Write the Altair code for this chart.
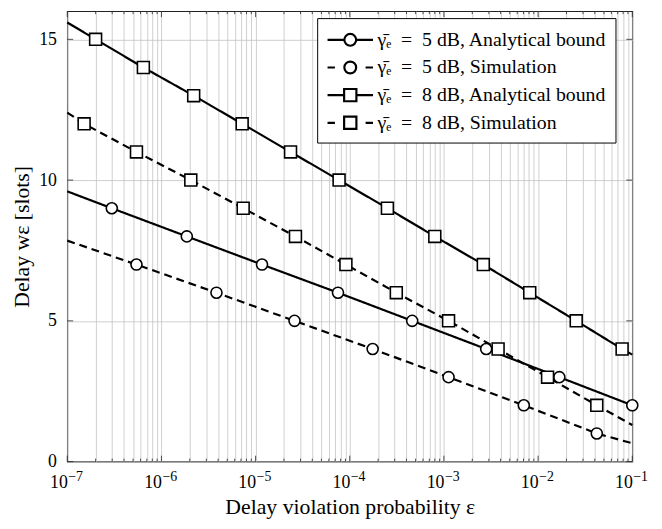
import altair as alt
import pandas as pd

# ---- data ----
series_names = [
    "γ̄ₑ\u2002=\u20025 dB, Analytical bound",
    "γ̄ₑ\u2002=\u20025 dB, Simulation",
    "γ̄ₑ\u2002=\u20028 dB, Analytical bound",
    "γ̄ₑ\u2002=\u20028 dB, Simulation",
]
series_kind = ["Analytical", "Simulation", "Analytical", "Simulation"]
series_marker = ["circle", "circle", "square", "square"]

ana5_eps = [2.97e-7, 1.86e-6, 1.17e-5, 7.5e-5, 4.6e-4, 2.81e-3, 1.68e-2, 1.0e-1]
ana5_w = [9, 8, 7, 6, 5, 4, 3, 2]
ana5_edges = [(1e-7, 9.6)]

sim5_eps = [5.43e-7, 3.84e-6, 2.59e-5, 1.75e-4, 1.12e-3, 7.05e-3, 4.2e-2]
sim5_w = [7, 6, 5, 4, 3, 2, 1]
sim5_edges = [(1e-7, 7.85), (1e-1, 0.65)]

ana8_eps = [2.0e-7, 6.43e-7, 2.2e-6, 7.2e-6, 2.35e-5, 7.7e-5, 2.51e-4, 8.0e-4,
            2.62e-3, 8.15e-3, 2.54e-2, 7.8e-2]
ana8_w = [15, 14, 13, 12, 11, 10, 9, 8, 7, 6, 5, 4]
ana8_edges = [(1e-7, 15.6), (1e-1, 3.8)]

sim8_eps = [1.51e-7, 5.43e-7, 2.05e-6, 7.38e-6, 2.65e-5, 9.1e-5, 3.12e-4, 1.12e-3,
            3.76e-3, 1.26e-2, 4.2e-2]
sim8_w = [12, 11, 10, 9, 8, 7, 6, 5, 4, 3, 2]
sim8_edges = [(1e-7, 12.4), (1e-1, 1.3)]

x_decades = [1e-7, 1e-6, 1e-5, 1e-4, 1e-3, 1e-2, 1e-1]
x_exponents = ["−7", "−6", "−5", "−4", "−3", "−2", "−1"]
y_ticks = [0, 5, 10, 15]

# legend glyphs: line sample + marker, drawn to the right of the nominal symbol box
legend_paths = [
    "M-1,0L0.48,0M1.52,0L3,0M0.48,0A0.52,0.52,0,1,1,1.52,0A0.52,0.52,0,1,1,0.48,0Z",
    "M-1,0L-0.35,0M2.35,0L3,0M0.48,0A0.52,0.52,0,1,1,1.52,0A0.52,0.52,0,1,1,0.48,0Z",
    "M-1,0L0.46,0M1.54,0L3,0M0.46,-0.54L1.54,-0.54L1.54,0.54L0.46,0.54Z",
    "M-1,0L-0.35,0M2.35,0L3,0M0.46,-0.54L1.54,-0.54L1.54,0.54L0.46,0.54Z",
]

# ---- build tables ----
all_eps = [ana5_eps, sim5_eps, ana8_eps, sim8_eps]
all_w = [ana5_w, sim5_w, ana8_w, sim8_w]
all_edges = [ana5_edges, sim5_edges, ana8_edges, sim8_edges]

marker_rows, line_rows = [], []
for i, name in enumerate(series_names):
    for e, w in zip(all_eps[i], all_w[i]):
        marker_rows.append({"series": name, "kind": series_kind[i],
                            "marker": series_marker[i], "eps": e, "w": w})
        line_rows.append({"series": name, "kind": series_kind[i], "eps": e, "w": w})
    for e, w in all_edges[i]:
        line_rows.append({"series": name, "kind": series_kind[i], "eps": e, "w": w})
markers = pd.DataFrame(marker_rows)
lines = pd.DataFrame(line_rows).sort_values(["series", "eps"])

minor_vals = []
for d in x_decades[:-1]:
    for k in range(2, 10):
        minor_vals.append(d * k)
all_x_vals = sorted(minor_vals + x_decades)
major_df = pd.DataFrame({"eps": x_decades, "exp": x_exponents})
minor_df = pd.DataFrame({"eps": minor_vals})
yt_df = pd.DataFrame({"w": y_ticks})

W, H = 572, 456
FONT = "Liberation Serif"
TICK = "#222222"

is_decade = "abs(log(datum.value)/LN10 - round(log(datum.value)/LN10)) < 0.001"
label_expr = "(" + is_decade + ") ? '10' : ''"

x_scale = alt.Scale(type="log", domain=[1e-7, 1e-1], nice=False)
y_scale = alt.Scale(domain=[0, 16], nice=False)

x_enc = alt.X("eps:Q", scale=x_scale,
              axis=alt.Axis(values=all_x_vals, labelExpr=label_expr,
                            title="Delay violation probability ε",
                            grid=True, gridColor="#c4c4c4", gridWidth=0.8,
                            ticks=False, domain=False, labelPadding=12,
                            labelAlign="right",
                            labelFontSize=18, titleFontSize=22, titlePadding=6,
                            labelFlush=False, labelOverlap=False))
y_enc = alt.Y("w:Q", scale=y_scale,
              axis=alt.Axis(values=y_ticks, title="Delay wε [slots]",
                            grid=True, gridColor="#c4c4c4", gridWidth=0.8,
                            ticks=False, domain=False, labelPadding=11,
                            labelFontSize=18, titleFontSize=22, titlePadding=5))

line_layer = alt.Chart(lines).mark_line(color="black", strokeWidth=2.2).encode(
    x=x_enc, y=y_enc, detail="series:N",
    strokeDash=alt.StrokeDash("kind:N", scale=alt.Scale(domain=["Analytical", "Simulation"],
                                                        range=[[1, 0], [8, 5]]), legend=None),
    order="eps:Q",
)

circ_layer = alt.Chart(markers).transform_filter("datum.marker == 'circle'").mark_point(
    shape="circle", size=125, filled=True, fill="white", stroke="black",
    strokeWidth=1.6, opacity=1).encode(x="eps:Q", y="w:Q")

sq_layer = alt.Chart(markers).transform_filter("datum.marker == 'square'").mark_point(
    shape="square", size=145, filled=True, fill="white", stroke="black",
    strokeWidth=1.6, opacity=1).encode(x="eps:Q", y="w:Q")

# exponents of the decade tick labels (10^-k)
exp_layer = alt.Chart(major_df).mark_text(
    font=FONT, fontSize=14, align="left", baseline="alphabetic", dx=1, color="black"
).encode(x="eps:Q", y=alt.value(H + 20), text="exp:N")

# inward tick marks on all four sides (positions from the scales)
def xticks(df, y0, y1):
    return alt.Chart(df).mark_rule(color=TICK, strokeWidth=0.8).encode(
        x="eps:Q", y=alt.value(y0), y2=alt.value(y1))

def yticks(x0, x1):
    return alt.Chart(yt_df).mark_rule(color=TICK, strokeWidth=0.8).encode(
        y="w:Q", x=alt.value(x0), x2=alt.value(x1))

tick_layers = [
    xticks(major_df, H, H - 6), xticks(minor_df, H, H - 3),
    xticks(major_df, 0, 6), xticks(minor_df, 0, 3),
    yticks(0, 6), yticks(W, W - 6),
]

legend_layer = alt.Chart(markers).transform_filter("false").mark_point(
    filled=False, color="black", strokeWidth=2.2, opacity=1).encode(
    shape=alt.Shape("series:N",
                    scale=alt.Scale(domain=series_names, range=legend_paths),
                    legend=alt.Legend(title=None, orient="none", legendX=253, legendY=7,
                                      symbolSize=529, symbolStrokeWidth=2.2,
                                      symbolFillColor="white", symbolStrokeColor="black",
                                      labelFont=FONT, labelFontSize=20, labelOffset=26,
                                      labelLimit=400,
                                      strokeColor="black", fillColor="white",
                                      padding=9, rowPadding=4, symbolOpacity=1)),
)

chart = alt.layer(line_layer, *tick_layers, circ_layer, sq_layer, exp_layer,
                  legend_layer).properties(
    width=W, height=H,
    autosize=alt.AutoSizeParams(type="none"),
    padding={"left": 60, "top": 0, "right": 22, "bottom": 65},
).configure_view(stroke="#222222", strokeWidth=1.2).configure_axis(
    labelFont=FONT, titleFont=FONT, labelColor="black", titleColor="black",
    titleFontWeight="normal",
).configure_legend(labelColor="black")

chart.save("out.html", embed_options={"renderer": "svg", "actions": False})
